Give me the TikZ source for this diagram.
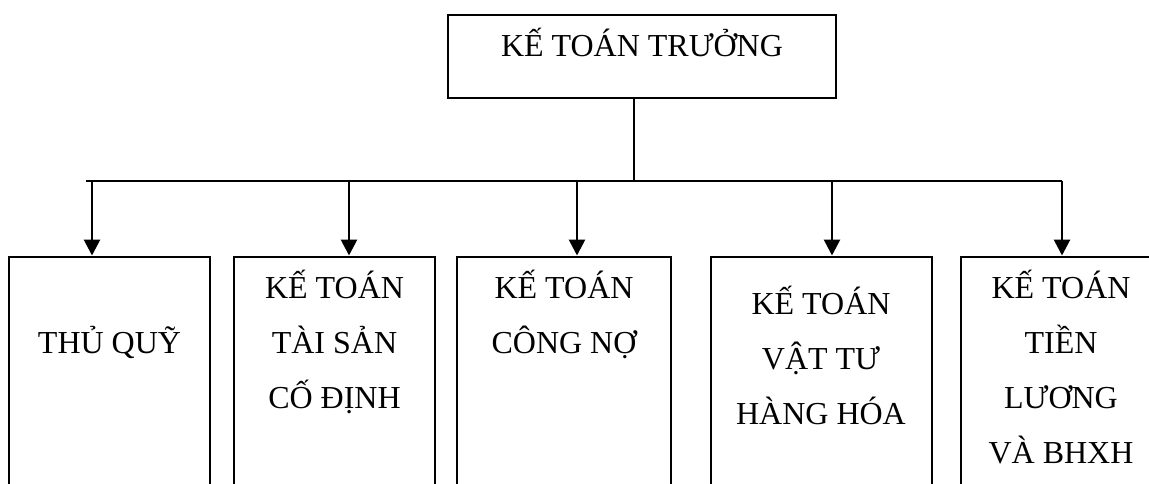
\documentclass[tikz,border=0pt]{standalone}
\usepackage{fontspec}
\setmainfont{Liberation Serif}
\usetikzlibrary{arrows.meta}
\begin{document}
\begin{tikzpicture}[x=1pt,y=-1pt,
 box/.style={draw,line width=2.8pt,rectangle,inner sep=0pt,outer sep=0pt,anchor=north west},
 lbl/.style={font=\fontsize{32}{55}\selectfont,align=center,anchor=base,inner sep=0pt},
 arr/.style={line width=2.8pt,-{Triangle[width=16pt,length=16pt]},shorten >=1.5pt},
 conn/.style={line width=2.8pt}]
\useasboundingbox (0,0) rectangle (1149,483);
\clip (0,0) rectangle (1149,483);
% boxes
\node[box,minimum width=388pt,minimum height=83pt] (top) at (448,15) {};
\node[box,minimum width=201pt,minimum height=260pt] (b1) at (9,257) {};
\node[box,minimum width=201pt,minimum height=260pt] (b2) at (234,257) {};
\node[box,minimum width=214pt,minimum height=260pt] (b3) at (457,257) {};
\node[box,minimum width=221pt,minimum height=260pt] (b4) at (711,257) {};
\node[box,minimum width=200pt,minimum height=260pt] (b5) at (961,257) {};
% labels (base anchor = baseline of the last line)
\node[lbl] (l0) at (642,56) {KẾ TOÁN TRƯỞNG};
\node[lbl] (l1) at (109.5,353) {THỦ QUỸ};
\node[lbl] (l2) at (334.5,408) {KẾ TOÁN\\TÀI SẢN\\CỐ ĐỊNH};
\node[lbl] (l3) at (564,353) {KẾ TOÁN\\CÔNG NỢ};
\node[lbl] (l4) at (821,424) {KẾ TOÁN\\VẬT TƯ\\HÀNG HÓA};
\node[lbl] (l5) at (1061,463) {KẾ TOÁN\\TIỀN\\LƯƠNG\\VÀ BHXH};
% bus
\coordinate (jt) at (634,181);
\coordinate (t1) at (92,181);
\coordinate (t2) at (349,181);
\coordinate (t3) at (577,181);
\coordinate (t4) at (832,181);
\coordinate (t5) at (1062,181);
\coordinate (busl) at (86,181);
\draw[conn] (top.south -| jt) -- (jt);
\draw[conn] (busl) -- (t5);
\draw[arr] (t1) -- (t1 |- b1.north);
\draw[arr] (t2) -- (t2 |- b2.north);
\draw[arr] (t3) -- (t3 |- b3.north);
\draw[arr] (t4) -- (t4 |- b4.north);
\draw[arr] (t5) -- (t5 |- b5.north);
\end{tikzpicture}
\end{document}
